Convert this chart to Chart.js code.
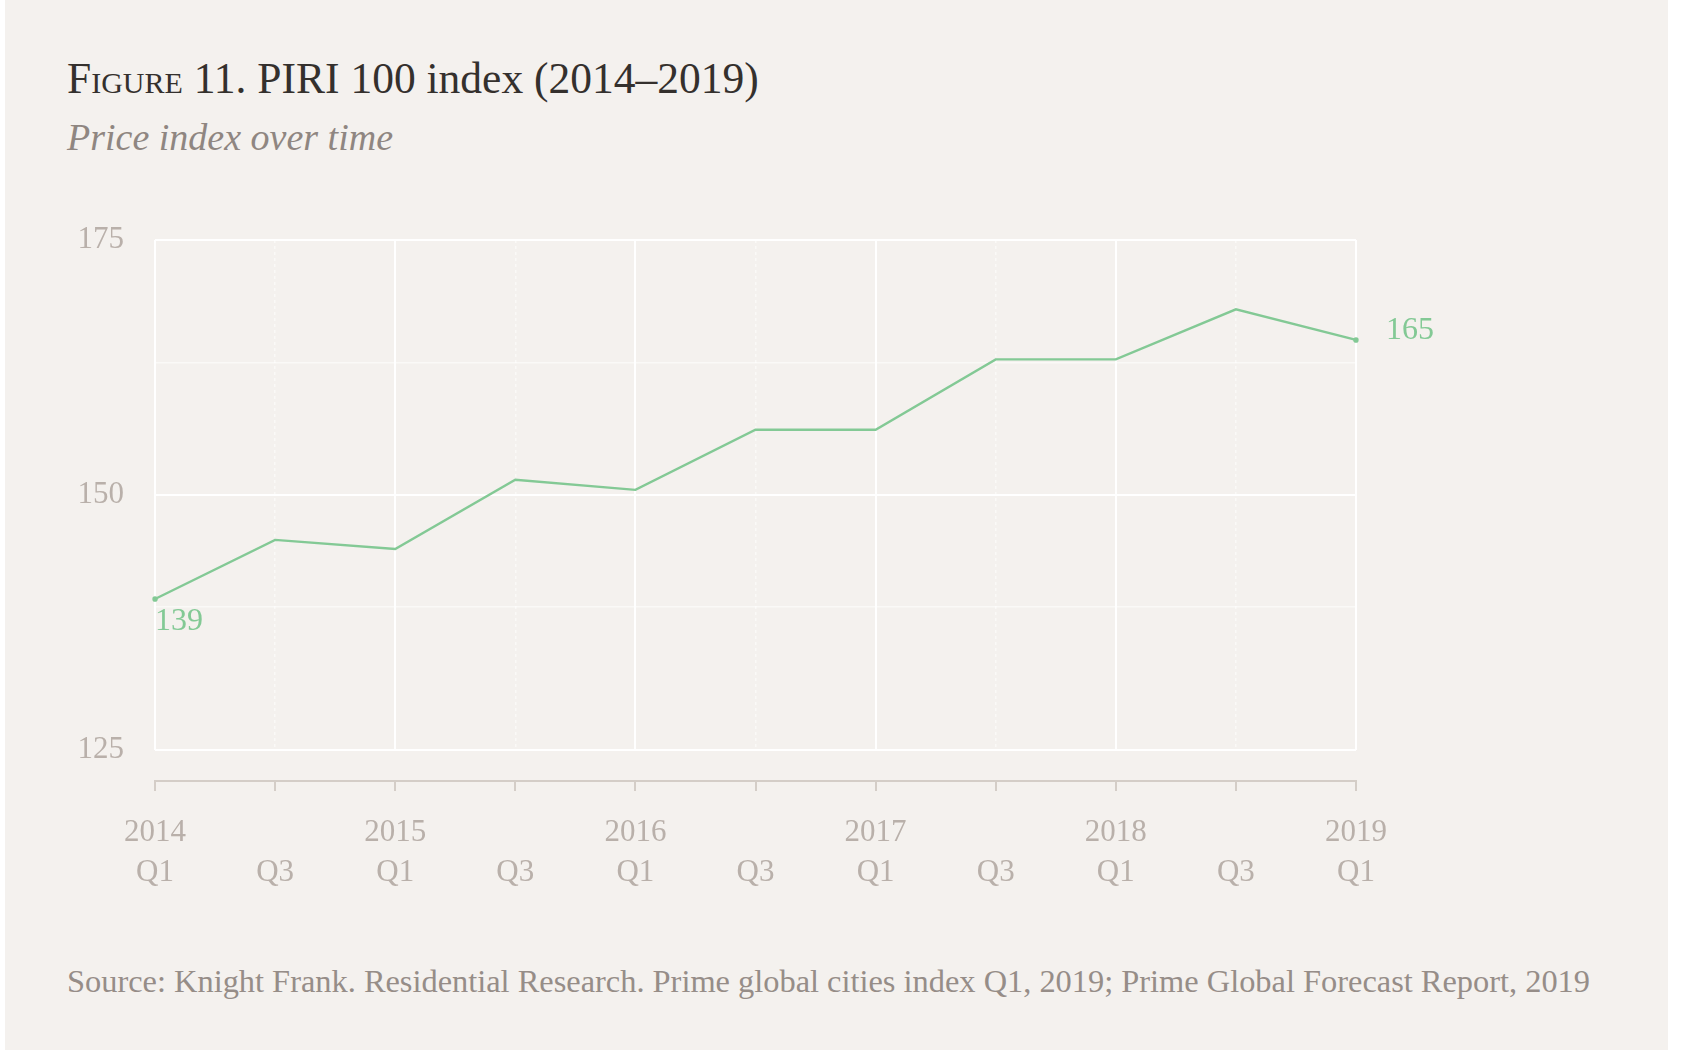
<!DOCTYPE html>
<html>
<head>
<meta charset="utf-8">
<script src="https://cdn.jsdelivr.net/npm/chart.js@4.4.1/dist/chart.umd.min.js"></script>
<style>
  html, body { margin: 0; padding: 0; background: #ffffff; width: 1695px; height: 1059px; overflow: hidden; }
  #panel { position: absolute; left: 5px; top: 0; width: 1663px; height: 1050px; background: #f4f1ee; }
  .t { position: absolute; left: 67px; white-space: nowrap; font-family: "Liberation Serif", "DejaVu Serif", serif; line-height: 1; }
  #title { top: 57px; font-size: 43.5px; color: #34302d; }
  #title .sc { font-variant: small-caps; }
  #subtitle { top: 118px; font-size: 38px; font-style: italic; color: #8f8681; }
  #source { top: 965px; font-size: 32.4px; color: #968d88; }
  #wrap { position: absolute; left: 0; top: 0; width: 1695px; height: 1059px; }
</style>
</head>
<body>
<div id="panel"></div>
<div id="title" class="t"><span class="sc">Figure 11.</span> PIRI 100 index (2014–2019)</div>
<div id="subtitle" class="t">Price index over time</div>
<div id="source" class="t">Source: Knight Frank. Residential Research. Prime global cities index Q1, 2019; Prime Global Forecast Report, 2019</div>
<div id="wrap"><canvas id="c" width="1695" height="1059"></canvas></div>
<script>
// ---- data ----
const yearLabels    = ['2014', '', '2015', '', '2016', '', '2017', '', '2018', '', '2019'];
const quarterLabels = ['Q1', 'Q3', 'Q1', 'Q3', 'Q1', 'Q3', 'Q1', 'Q3', 'Q1', 'Q3', 'Q1'];
const piriValues    = [139.8, 145.6, 144.7, 151.5, 150.5, 156.4, 156.4, 163.3, 163.3, 168.2, 165.2];
const yTickValues   = [125, 150, 175];
const faintLevels   = [139, 163];

const categories = yearLabels.map((y, i) => [y, quarterLabels[i]]);

const GREEN = '#83c995';
const LABEL = '#b9b0aa';
const FONT = '"Liberation Serif", "DejaVu Serif", serif';

const decor = {
  id: 'decor',
  afterDraw(chart) {
    const { ctx, chartArea, scales } = chart;
    const x = scales.x;
    const n = categories.length;
    const ay = chartArea.bottom + 31;
    ctx.save();
    ctx.strokeStyle = '#d4cdc7';
    ctx.lineWidth = 2;
    ctx.beginPath();
    ctx.moveTo(x.getPixelForValue(0) - 1, ay);
    ctx.lineTo(x.getPixelForValue(n - 1) + 1, ay);
    for (let i = 0; i < n; i++) {
      const px = Math.round(x.getPixelForValue(i));
      ctx.moveTo(px, ay);
      ctx.lineTo(px, ay + 10);
    }
    ctx.stroke();

    const meta = chart.getDatasetMeta(0);
    const first = meta.data[0];
    const last = meta.data[n - 1];
    ctx.fillStyle = GREEN;
    ctx.font = '32px ' + FONT;
    ctx.textBaseline = 'middle';
    ctx.textAlign = 'left';
    ctx.fillText(String(Math.floor(piriValues[0])), first.x, first.y + 23);
    ctx.fillText(String(Math.floor(piriValues[n - 1])), last.x + 30, last.y - 9);
    ctx.restore();
  }
};

new Chart(document.getElementById('c'), {
  type: 'line',
  data: {
    labels: categories,
    datasets: [{
      data: piriValues,
      borderColor: GREEN,
      backgroundColor: GREEN,
      borderWidth: 2.4,
      tension: 0,
      pointRadius: (c) => (c.dataIndex === 0 || c.dataIndex === piriValues.length - 1) ? 2.8 : 0,
      pointHoverRadius: 0,
      pointBorderWidth: 0
    }]
  },
  options: {
    responsive: false,
    animation: false,
    events: [],
    layout: { padding: { left: 0, right: 339, top: 240, bottom: 159 } },
    plugins: { legend: { display: false }, tooltip: { enabled: false }, title: { display: false } },
    scales: {
      x: {
        afterFit: (s) => { s.height = 150; },
        grid: {
          drawTicks: false,
          color: (c) => (c.index % 2 === 0) ? 'rgba(255,255,255,0.95)' : 'rgba(255,255,255,0.55)',
          lineWidth: (c) => (c.index % 2 === 0) ? 2 : 1.5
        },
        border: { display: false, dash: (c) => (c.index % 2 === 0) ? [] : [3, 3] },
        ticks: {
          autoSkip: false, maxRotation: 0, minRotation: 0,
          padding: 63,
          color: LABEL,
          font: { family: FONT, size: 31, lineHeight: 1.29 }
        }
      },
      y: {
        min: 125, max: 175,
        afterFit: (s) => { s.width = 155; },
        afterBuildTicks: (s) => {
          s.ticks = yTickValues.concat(faintLevels).sort((a, b) => a - b).map(v => ({ value: v }));
        },
        grid: {
          drawTicks: false,
          color: (c) => yTickValues.includes(c.tick.value) ? 'rgba(255,255,255,0.95)' : 'rgba(255,255,255,0.55)',
          lineWidth: (c) => yTickValues.includes(c.tick.value) ? 2 : 1.5
        },
        border: { display: false },
        ticks: {
          padding: 31,
          color: LABEL,
          font: { family: FONT, size: 31 },
          callback: (v) => yTickValues.includes(v) ? String(v) : ''
        }
      }
    }
  },
  plugins: [decor]
});
</script>
</body>
</html>
